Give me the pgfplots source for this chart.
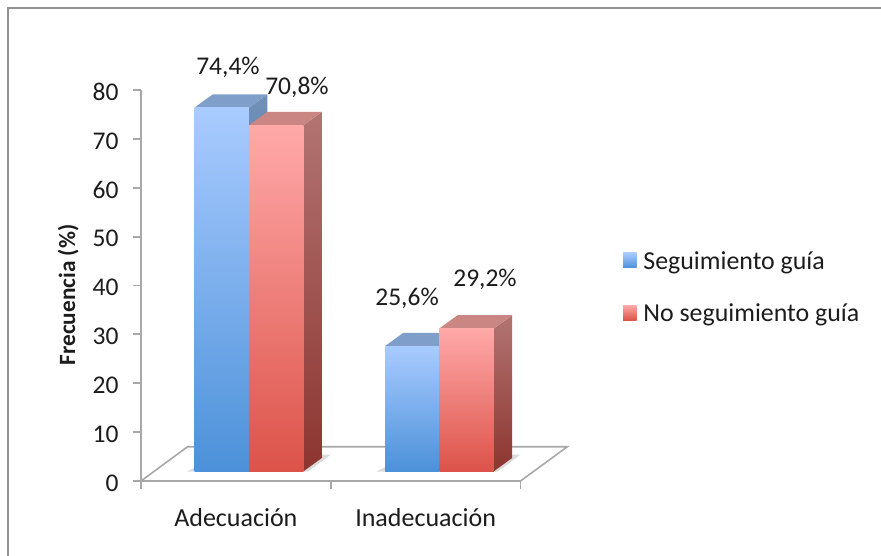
\documentclass[border=0pt]{standalone}
\usepackage{pgfplots}
\pgfplotsset{compat=1.18}
\usepackage{fontspec}
\setmainfont{Carlito}
\definecolor{axgray}{HTML}{A8A8A8}
\definecolor{framegray}{HTML}{929292}
\definecolor{txt}{HTML}{1C1C1C}
\definecolor{bluetop}{HTML}{A9CBFF}
\definecolor{bluebot}{HTML}{4C91D9}
\definecolor{blueside}{HTML}{7090B8}
\definecolor{bluesideb}{HTML}{3C6A9E}
\definecolor{bluecap}{HTML}{7F9FCA}
\definecolor{redtop}{HTML}{FFA9A9}
\definecolor{redbot}{HTML}{DC5349}
\definecolor{redside}{HTML}{B27472}
\definecolor{redsideb}{HTML}{8D3530}
\definecolor{redcap}{HTML}{C98683}
% left, right, value, front top, front bottom, side top, side bottom, cap
\newcommand{\threedbar}[8]{%
  \pgfmathsetmacro{\yt}{#3+2}%
  \pgfmathsetmacro{\ytb}{#3+2+2.72}%
  \pgfmathsetmacro{\ybb}{2+2.72}%
  \pgfmathsetmacro{\xrb}{#2+0.0965}%
  \pgfmathsetmacro{\xlb}{#1+0.0965}%
  \addplot[forget plot,draw=none,shade,top color=#6,bottom color=#7] coordinates {(#2,2) (\xrb,\ybb) (\xrb,\ytb) (#2,\yt)} --cycle;
  \addplot[forget plot,draw=none,fill=#8] coordinates {(#1,\yt) (#2,\yt) (\xrb,\ytb) (\xlb,\ytb)} --cycle;
  \addplot[forget plot,draw=none,shade,top color=#4,bottom color=#5] coordinates {(#1,2) (#2,2) (#2,\yt) (#1,\yt)} --cycle;
}
\begin{document}
\begin{tikzpicture}[x=1pt,y=1pt]
\useasboundingbox (0,0) rectangle (881,556);
\draw[framegray,line width=2.6pt] (8,0) -- (8,548) -- (881,548);
\begin{axis}[
  at={(141pt,75pt)},anchor=south west,
  scale only axis,width=379.5pt,height=391pt,
  xmin=0,xmax=2,ymin=0,ymax=80,
  clip=false,
  axis lines=left,
  axis line style={-,axgray,line width=2pt},
  every tick/.style={axgray,line width=1.8pt},
  major tick length=8pt,
  tick align=outside,
  xtick={0,1,2},xticklabels={},
  extra x ticks={0.5,1.5},
  extra x tick labels={Adecuación,Inadecuación},
  extra x tick style={major tick length=0pt,tick label style={yshift=-24pt,font=\fontsize{26}{26}\selectfont}},
  ytick={0,10,...,80},
  yticklabel style={xshift=-11pt,yshift=-2pt},
  tick label style={font=\fontsize{25.5}{26}\selectfont,text=txt},
  /pgf/number format/assume math mode=true,
  ylabel={\textbf{Frecuencia (\%)}},
  ylabel style={font=\fontsize{23.3}{24}\selectfont,text=txt,at={(axis description cs:-0.192,0.476)},anchor=center},
  legend style={draw=none,fill=none,at={(1.27,0.496)},anchor=west,
    font=\fontsize{25.9}{26}\selectfont,text=txt,row sep=33pt,
    legend cell align=left,inner sep=0pt,nodes={inner sep=0pt}},
]
% floor
\addplot[forget plot,axgray,line width=1.6pt] coordinates {(0,0) (0.245,7) (2.2466,7) (2,0)};
% floor shadow
\addplot[forget plot,draw=none,fill=black!14] coordinates {(0.24,1.9) (0.88,1.9) (1.0,5.4) (0.42,5.4)} --cycle;
\addplot[forget plot,draw=none,fill=black!14] coordinates {(1.24,1.9) (1.88,1.9) (2.0,5.4) (1.42,5.4)} --cycle;
% bars: left, right, value
\threedbar{0.282}{0.569}{74.4}{bluetop}{bluebot}{blueside}{bluesideb}{bluecap}
\threedbar{0.569}{0.857}{70.8}{redtop}{redbot}{redside}{redsideb}{redcap}
\threedbar{1.286}{1.572}{25.6}{bluetop}{bluebot}{blueside}{bluesideb}{bluecap}
\threedbar{1.572}{1.860}{29.2}{redtop}{redbot}{redside}{redsideb}{redcap}
% data labels
\node[font=\fontsize{25.5}{26}\selectfont,text=txt] at (axis cs:0.4585,84.7) {74,4\%};
\node[font=\fontsize{25.5}{26}\selectfont,text=txt] at (axis cs:0.822,80.6) {70,8\%};
\node[font=\fontsize{25.5}{26}\selectfont,text=txt] at (axis cs:1.402,37.4) {25,6\%};
\node[font=\fontsize{25.5}{26}\selectfont,text=txt] at (axis cs:1.813,41.3) {29,2\%};
% legend
\addlegendimage{legend image code/.code={\path[draw=none,shade,top color=bluetop,bottom color=bluebot] (0pt,-7pt) rectangle (13.5pt,8pt);\path (20pt,0pt);}}
\addlegendentry{Seguimiento guía}
\addlegendimage{legend image code/.code={\path[draw=none,shade,top color=redtop,bottom color=redbot] (0pt,-7pt) rectangle (13.5pt,8pt);\path (20pt,0pt);}}
\addlegendentry{No seguimiento guía}
\end{axis}
\end{tikzpicture}
\end{document}
